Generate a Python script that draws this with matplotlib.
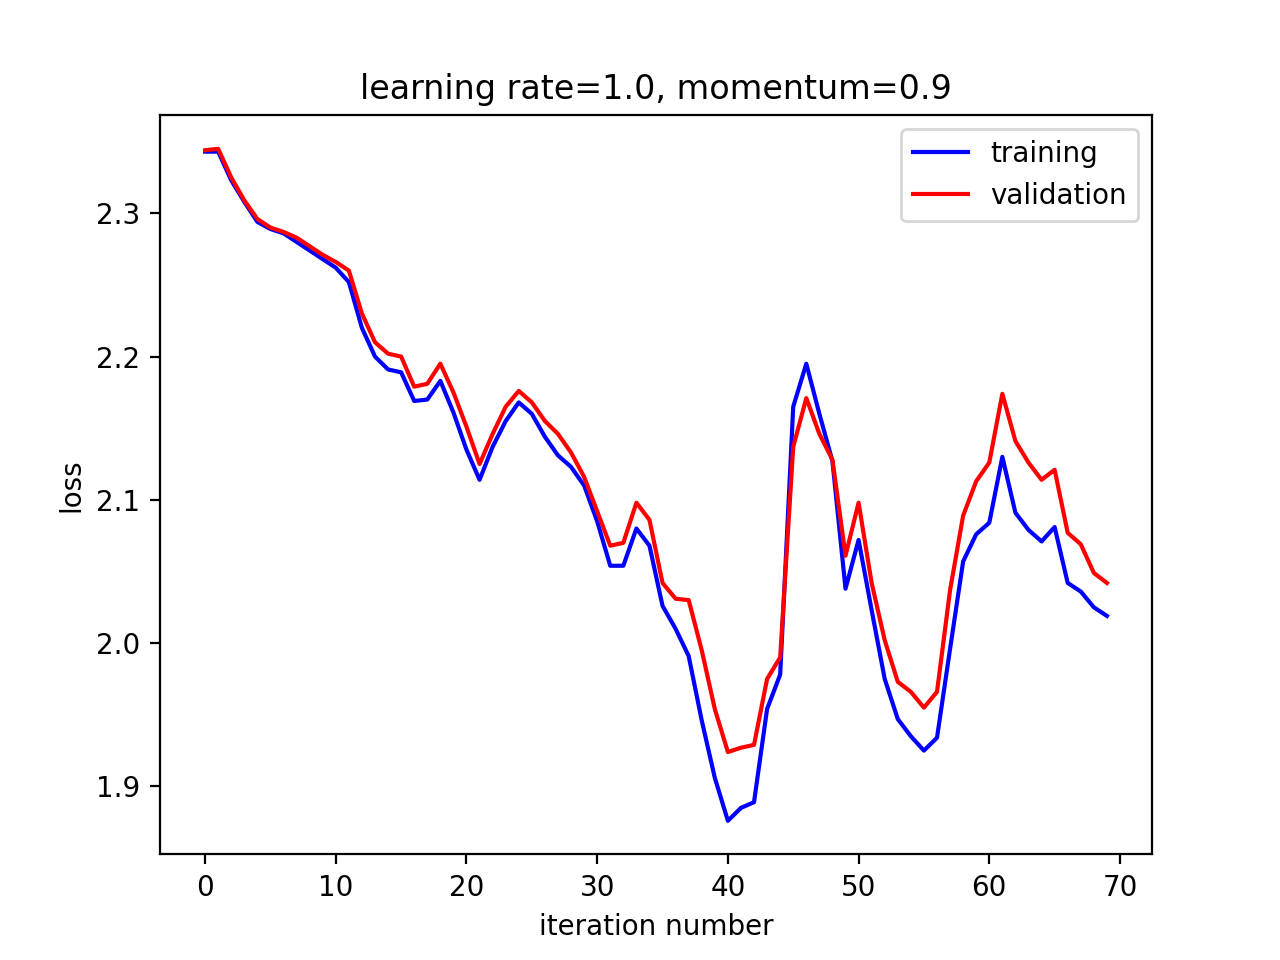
"""Training vs validation loss per iteration."""

import matplotlib

matplotlib.use("Agg")
import matplotlib.pyplot as plt

training_loss = [
    2.343, 2.343, 2.323, 2.308, 2.294, 2.289, 2.286, 2.280, 2.274, 2.268,
    2.262, 2.252, 2.220, 2.200, 2.191, 2.189, 2.169, 2.170, 2.183, 2.161,
    2.135, 2.114, 2.137, 2.155, 2.168, 2.160, 2.144, 2.131, 2.123, 2.110,
    2.085, 2.054, 2.054, 2.080, 2.068, 2.026, 2.010, 1.991, 1.946, 1.906,
    1.876, 1.885, 1.889, 1.954, 1.978, 2.165, 2.195, 2.160, 2.127, 2.038,
    2.072, 2.023, 1.975, 1.947, 1.935, 1.925, 1.934, 1.996, 2.057, 2.076,
    2.084, 2.130, 2.091, 2.079, 2.071, 2.081, 2.042, 2.036, 2.025, 2.019,
]
validation_loss = [
    2.344, 2.345, 2.325, 2.309, 2.296, 2.290, 2.287, 2.283, 2.277, 2.271,
    2.266, 2.260, 2.230, 2.210, 2.202, 2.200, 2.179, 2.181, 2.195, 2.175,
    2.151, 2.125, 2.146, 2.165, 2.176, 2.168, 2.155, 2.146, 2.133, 2.116,
    2.092, 2.068, 2.070, 2.098, 2.086, 2.042, 2.031, 2.030, 1.995, 1.954,
    1.924, 1.927, 1.929, 1.975, 1.990, 2.137, 2.171, 2.146, 2.128, 2.061,
    2.098, 2.042, 2.002, 1.973, 1.966, 1.955, 1.966, 2.037, 2.089, 2.113,
    2.126, 2.174, 2.141, 2.126, 2.114, 2.121, 2.077, 2.069, 2.049, 2.042,
]
iterations = list(range(len(training_loss)))

fig, ax = plt.subplots(figsize=(6.4, 4.8))
ax.plot(iterations, training_loss, "b", label="training")
ax.plot(iterations, validation_loss, "r", label="validation")
ax.set_xlabel("iteration number")
ax.set_ylabel("loss")
ax.set_title("learning rate=1.0, momentum=0.9")
ax.legend()
fig.savefig("out.png", dpi=200)
plt.close(fig)
